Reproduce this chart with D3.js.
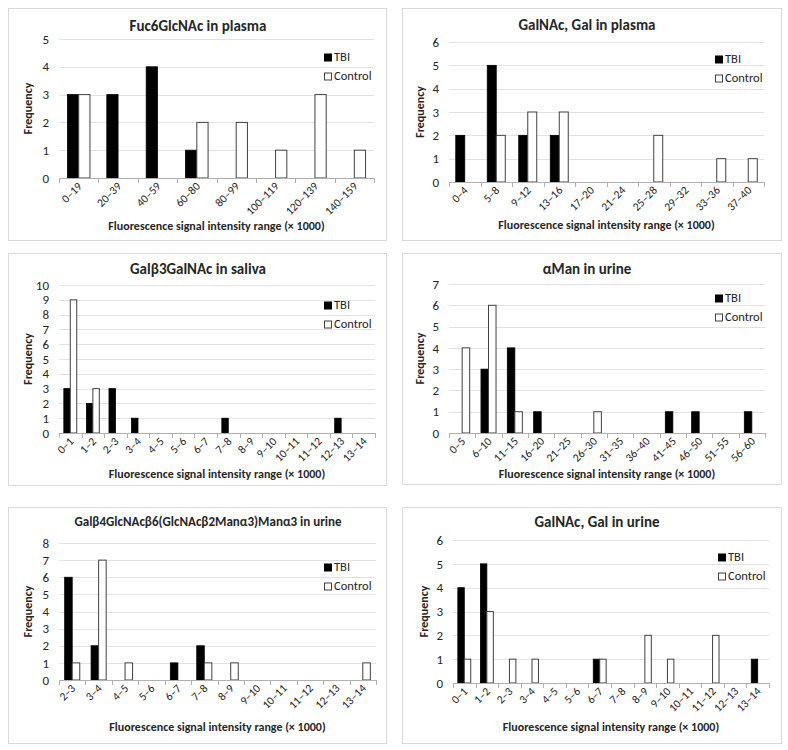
<!DOCTYPE html>
<html><head><meta charset="utf-8">
<script src="https://cdn.jsdelivr.net/npm/d3@7"></script>
<style>
body{margin:0;background:#fff;}
svg{display:block;font-family:Carlito,Calibri,Lato,"Open Sans",sans-serif;}
</style></head>
<body><svg id="c" width="788" height="750"></svg>
<script>
// ---- data ----
const titles = ["Fuc6GlcNAc in plasma","GalNAc, Gal in plasma","Galβ3GalNAc in saliva","αMan in urine","Galβ4GlcNAcβ6(GlcNAcβ2Manα3)Manα3  in urine","GalNAc, Gal in urine"];
const seriesNames = ["TBI","Control"];
const yTitle = "Frequency";
const xTitle = "Fluorescence signal intensity range (× 1000)";

const categories1 = ["0–19","20–39","40–59","60–80","80–99","100–119","120–139","140–159"];
const tbi1 = [3,3,4,1,0,0,0,0];
const control1 = [3,0,0,2,2,1,3,1];
const yMax1 = 5;

const categories2 = ["0–4","5–8","9–12","13–16","17–20","21–24","25–28","29–32","33–36","37–40"];
const tbi2 = [2,5,2,2,0,0,0,0,0,0];
const control2 = [0,2,3,3,0,0,2,0,1,1];
const yMax2 = 6;

const categories3 = ["0–1","1–2","2–3","3–4","4–5","5–6","6–7","7–8","8–9","9–10","10–11","11–12","12–13","13–14"];
const tbi3 = [3,2,3,1,0,0,0,1,0,0,0,0,1,0];
const control3 = [9,3,0,0,0,0,0,0,0,0,0,0,0,0];
const yMax3 = 10;

const categories4 = ["0–5","6–10","11–15","16–20","21–25","26–30","31–35","36–40","41–45","46–50","51–55","56–60"];
const tbi4 = [0,3,4,1,0,0,0,0,1,1,0,1];
const control4 = [4,6,1,0,0,1,0,0,0,0,0,0];
const yMax4 = 7;

const categories5 = ["2–3","3–4","4–5","5–6","6–7","7–8","8–9","9–10","10–11","11–12","12–13","13–14"];
const tbi5 = [6,2,0,0,1,2,0,0,0,0,0,0];
const control5 = [1,7,1,0,0,1,1,0,0,0,0,1];
const yMax5 = 8;

const categories6 = ["0–1","1–2","2–3","3–4","4–5","5–6","6–7","7–8","8–9","9–10","10–11","11–12","12–13","13–14"];
const tbi6 = [4,5,0,0,0,0,1,0,0,0,0,0,0,1];
const control6 = [1,3,1,1,0,0,1,0,2,1,0,2,0,0];
const yMax6 = 6;

// ---- layout (positions only) ----
const layout = [
  {box:[8,8,378,232], l:59, r:374, t:39, b:178, tx:198, ty:27, lx:325, ly:58, xty:227, ytx:29},
  {box:[402,8,379,232], l:449, r:764, t:42, b:182, tx:587, ty:26, lx:716, ly:60, xty:226, ytx:421},
  {box:[8,253,378,232], l:59, r:375, t:285, b:433, tx:198, ty:270, lx:325, ly:306, xty:475, ytx:29},
  {box:[402,253,379,231], l:449, r:765, t:284, b:433, tx:587, ty:270, lx:716, ly:299, xty:475, ytx:421},
  {box:[8,507,378,236], l:59, r:376, t:543, b:680, tx:208, ty:523, lx:325, ly:568, xty:728, ytx:29},
  {box:[402,507,379,236], l:453, r:769, t:540, b:683, tx:597, ty:523, lx:719, ly:558, xty:728, ytx:425}
];

const datasets = [
  {cats:categories1, tbi:tbi1, ctl:control1, ymax:yMax1},
  {cats:categories2, tbi:tbi2, ctl:control2, ymax:yMax2},
  {cats:categories3, tbi:tbi3, ctl:control3, ymax:yMax3},
  {cats:categories4, tbi:tbi4, ctl:control4, ymax:yMax4},
  {cats:categories5, tbi:tbi5, ctl:control5, ymax:yMax5},
  {cats:categories6, tbi:tbi6, ctl:control6, ymax:yMax6}
];

const svg = d3.select("#c");
const txt = "#262626";

datasets.forEach((d,i)=>{
  const L = layout[i];
  const g = svg.append("g");
  g.append("rect").attr("x",L.box[0]+0.5).attr("y",L.box[1]+0.5)
    .attr("width",L.box[2]).attr("height",L.box[3])
    .attr("fill","#fff").attr("stroke","#d9d9d9").attr("stroke-width",1);

  const y = d3.scaleLinear().domain([0,d.ymax]).range([L.b,L.t]);
  const x = d3.scaleBand().domain(d.cats).range([L.l,L.r]).padding(0);
  const bw = x.bandwidth()/3.5;

  // gridlines + y labels
  const ya = d3.axisLeft(y).ticks(d.ymax).tickSize(-(L.r-L.l)).tickPadding(10).tickFormat(d3.format("d"));
  const yg = g.append("g").attr("transform",`translate(${L.l},0)`).call(ya);
  yg.select(".domain").remove();
  yg.selectAll(".tick line").attr("stroke","#e3e3e3").attr("stroke-width",1)
    .attr("shape-rendering","crispEdges")
    .filter(v=>v===0).remove();
  yg.selectAll(".tick text").attr("fill",txt).style("font-size","13px").style("font-family","Carlito,Calibri,Lato,sans-serif");

  // bars
  const bars = g.append("g");
  d.cats.forEach((c,k)=>{
    const cx = x(c)+x.bandwidth()/2;
    if(d.tbi[k]>0){
      bars.append("rect").attr("x",cx-bw).attr("y",y(d.tbi[k])).attr("width",bw).attr("height",L.b-y(d.tbi[k]))
        .attr("fill","#000").attr("stroke","#000").attr("stroke-width",0.8);
    }
    if(d.ctl[k]>0){
      bars.append("rect").attr("x",cx).attr("y",y(d.ctl[k])).attr("width",bw).attr("height",L.b-y(d.ctl[k]))
        .attr("fill","#fff").attr("stroke","#404040").attr("stroke-width",1);
    }
  });

  // x axis
  const xa = d3.axisBottom(x).tickSize(0).tickPadding(0);
  const xg = g.append("g").attr("transform",`translate(0,${L.b})`).call(xa);
  xg.select(".domain").remove();
  g.append("line").attr("x1",L.l).attr("x2",L.r).attr("y1",L.b+0.5).attr("y2",L.b+0.5)
    .attr("stroke","#b0b0b0").attr("stroke-width",1);
  const bounds = d.cats.map(c=>x(c)).concat([L.r]);
  g.selectAll(null).data(bounds).enter().append("line")
    .attr("x1",v=>Math.round(v)+0.5).attr("x2",v=>Math.round(v)+0.5)
    .attr("y1",L.b).attr("y2",L.b+5).attr("stroke","#b0b0b0");
  xg.selectAll(".tick text")
    .attr("fill",txt).style("font-size","11.5px").style("font-family","Carlito,Calibri,Lato,sans-serif")
    .attr("text-anchor","end").attr("dy",null)
    .attr("transform","translate(4,9) rotate(-45)");

  // title
  g.append("text").attr("x",L.tx).attr("y",L.ty).attr("text-anchor","middle").attr("dominant-baseline","middle")
    .attr("fill",txt).style("font-weight","bold").style("font-size", i===4?"13px":"15px").text(titles[i]);
  // axis titles
  g.append("text").attr("x",(L.l+L.r)/2).attr("y",L.xty).attr("text-anchor","middle").attr("dominant-baseline","middle")
    .attr("fill",txt).style("font-weight","bold").style("font-size","12px").text(xTitle);
  g.append("text").attr("transform",`translate(${L.ytx},${(L.t+L.b)/2}) rotate(-90)`).attr("text-anchor","middle")
    .attr("dominant-baseline","middle").attr("fill",txt).style("font-weight","bold").style("font-size","12px").text(yTitle);

  // legend
  seriesNames.forEach((s,k)=>{
    const ly = L.ly + k*19;
    g.append("rect").attr("x",L.lx-0.5).attr("y",ly-4).attr("width",7).attr("height",7)
      .attr("fill",k===0?"#000":"#fff").attr("stroke",k===0?"#000":"#404040").attr("stroke-width",1);
    g.append("text").attr("x",L.lx+9).attr("y",ly).attr("dominant-baseline","middle")
      .attr("fill",txt).style("font-size","12.5px").text(s);
  });
});
</script></body></html>
